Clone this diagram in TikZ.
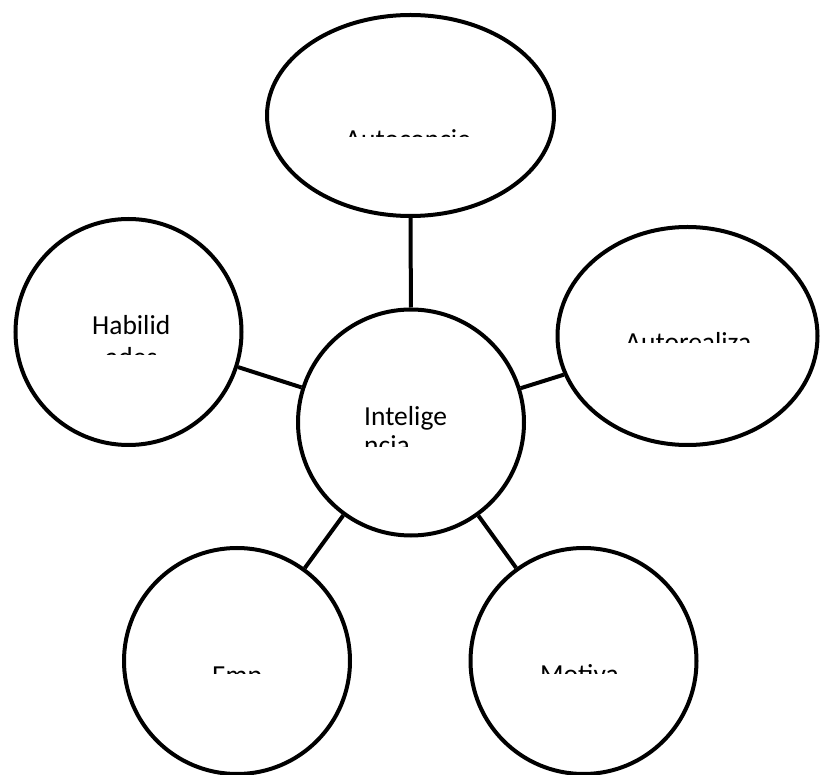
\documentclass[tikz,border=0pt]{standalone}
\usepackage{fontspec}
\setmainfont{Carlito}
\usetikzlibrary{shapes.geometric}
\begin{document}
\begin{tikzpicture}[x=1pt,y=-1pt,
  bubble/.style={draw=black, line width=4pt, fill=white, inner sep=0pt},
  link/.style={draw=black, line width=4pt},
  lbl/.style={anchor=base west, inner sep=0pt, text=black, font=\fontsize{27.5}{33}\selectfont}]
\useasboundingbox (0,0) rectangle (820,775);
% bubbles
\node[bubble, circle, minimum size=226pt] (c) at (411,422.5) {};
\node[bubble, ellipse, minimum width=287pt, minimum height=201pt] (t) at (410.5,115.5) {};
\node[bubble, ellipse, minimum width=260pt, minimum height=218pt] (r) at (687.5,336) {};
\node[bubble, circle, minimum size=226pt] (l) at (128.5,332) {};
\node[bubble, circle, minimum size=226pt] (bl) at (237,661) {};
\node[bubble, circle, minimum size=226pt] (br) at (583.5,661) {};
% connectors
\draw[link] (c) -- (t);
\draw[link] (c) -- (r);
\draw[link] (c) -- (l);
\draw[link] (c) -- (bl);
\draw[link] (c) -- (br);
% clipped labels
\begin{scope}
  \clip (320,110) rectangle (500,137);
  \node[lbl] (tA) at (345,149) {Autoconcie};
\end{scope}
\begin{scope}
  \clip (60,300) rectangle (200,355);
  \node[lbl] (lA) at (92,335) {Habilid};
  \node[lbl] (lB) at (105,367) {ades};
\end{scope}
\begin{scope}
  \clip (340,390) rectangle (480,447);
  \node[lbl] (cA) at (364,426) {Intelige};
  \node[lbl] (cB) at (364,455) {ncia};
\end{scope}
\begin{scope}
  \clip (600,320) rectangle (790,343);
  \node[lbl] (rA) at (625,352) {Autorealiza};
\end{scope}
\begin{scope}
  \clip (190,650) rectangle (290,673);
  \node[lbl] (blA) at (212,684) {Emp};
\end{scope}
\begin{scope}
  \clip (520,650) rectangle (640,673);
  \node[lbl] (brA) at (540,683) {Motiva};
\end{scope}
\end{tikzpicture}
\end{document}
